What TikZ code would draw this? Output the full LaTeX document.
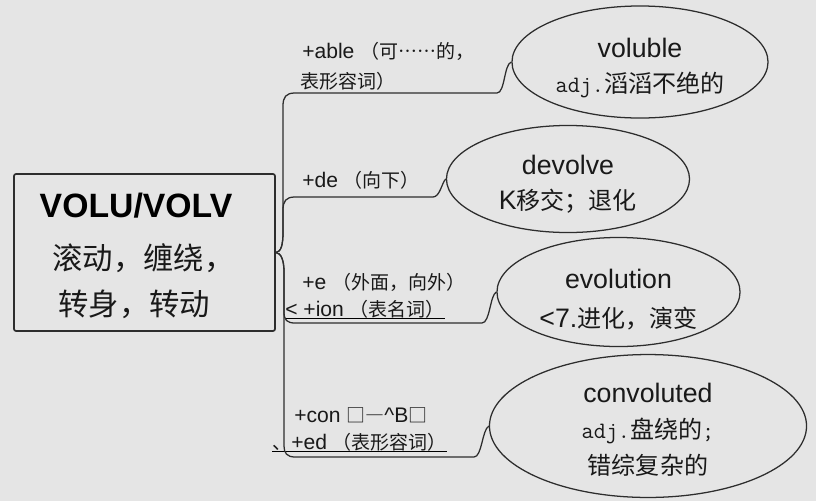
\documentclass[tikz,border=0pt]{standalone}
\usepackage{fontspec}
\setmainfont{Liberation Sans}
\setmonofont{Latin Modern Mono}[Scale=0.88]
\newfontfamily\cjk{Noto Sans CJK SC}[Scale=0.9, Script=CJK, Language=Chinese Simplified]
\newcommand{\zh}[1]{{\cjk #1}}
\newcommand{\lift}[1]{\rule{0pt}{#1}}
\usetikzlibrary{shapes.geometric}

\definecolor{paper}{RGB}{229,229,229}
\definecolor{ink}{RGB}{45,45,45}

\begin{document}
\begin{tikzpicture}[x=0.025cm, y=-0.025cm,
  rootbox/.style={draw=ink, line width=1.2pt, rounded corners=1.5pt, minimum width=6.525cm, minimum height=3.925cm, inner sep=0pt},
  word/.style={ellipse, draw=ink, line width=0.9pt, inner sep=0pt, align=center, text=black!90, font=\fontsize{19}{25}\selectfont},
  tag/.style={anchor=base west, inner sep=0pt, text=black!90, font=\fontsize{15}{17}\selectfont},
  branch/.style={draw=ink, line width=0.9pt},
  uline/.style={draw=black, line width=0.8pt}
]
\fill[paper] (0,0) rectangle (816,501);
\useasboundingbox (0,0) rectangle (816,501);

% root box
\node[rootbox] (root) at (144.5,252.5) {};
\node[anchor=base, inner sep=0pt, font=\fontsize{24}{24}\selectfont\bfseries] (stem) at (136,217) {VOLU/VOLV};
\node[anchor=base west, inner sep=0pt, text=black!90, font=\fontsize{24}{24}\selectfont\cjk] (mean1) at (52,269) {滚动，缠绕，};
\node[anchor=base west, inner sep=0pt, text=black!90, font=\fontsize{24}{24}\selectfont\cjk] (mean2) at (58,315) {转身，转动};

% words
\node[word, minimum width=6.4cm, minimum height=2.8cm] (vol) at (640,62) {\lift{22.5pt}voluble\\\texttt{adj.}\zh{滔滔不绝的}};
\node[word, minimum width=6.075cm, minimum height=2.675cm] (dev) at (568,179) {\lift{21pt}devolve\\K\zh{移交；退化}};
\node[word, minimum width=6.075cm, minimum height=2.425cm, font=\fontsize{19}{28}\selectfont] (evo) at (618.5,292) {\lift{25pt}evolution\\<7.\zh{进化，演变}};
\node[word, minimum width=7.925cm, minimum height=3.55cm, font=\fontsize{19}{25.5}\selectfont] (con) at (648,426) {\lift{19.5pt}convoluted\\\texttt{adj.}\zh{盘绕的}\texttt{;}\\\zh{错综复杂的}};

% affixes
\node[tag] (able) at (302,58) {+able \zh{（可……的，}};
\node[tag] (able2) at (300,88) {\zh{表形容词）}};
\node[tag] (de) at (302,187) {+de \zh{（向下）}};
\node[tag] (e) at (302,289) {+e \zh{（外面，向外）}};
\node[tag] (ion) at (285,316) {< +ion \zh{（表名词）}};
\node[tag] (cn) at (294,422) {+con \zh{□—}\textasciicircum B\zh{□}};
\node[tag] (ed) at (272,449) {\zh{、}+ed \zh{（表形容词）}};

\draw[uline] (ion.south west) -- (ion.south east);
\draw[uline] (ed.south west) -- (ed.south east);

% branches
\draw[branch] (root.east) .. controls (281,252) and (283,245) .. (283,232) -- (283,106)
  .. controls (283,97) and (286,93) .. (295,93) -- (497,93) .. controls (505,93) and (504,64) .. (vol.west);
\draw[branch] (root.east) .. controls (281,252) and (283,245) .. (283,232) -- (283,210)
  .. controls (283,201) and (286,197) .. (295,197) -- (433,197) .. controls (440,197) and (442,182) .. (dev.west);
\draw[branch] (root.east) .. controls (281,253) and (284,260) .. (284,272) -- (284,312)
  .. controls (284,320) and (287,323) .. (295,323) -- (482,323) .. controls (490,323) and (490,295) .. (evo.west);
\draw[branch] (root.east) .. controls (281,253) and (284,260) .. (284,272) -- (284,446)
  .. controls (284,453) and (287,457) .. (295,457) -- (474,457) .. controls (482,457) and (482,430) .. (con.west);
\end{tikzpicture}
\end{document}
